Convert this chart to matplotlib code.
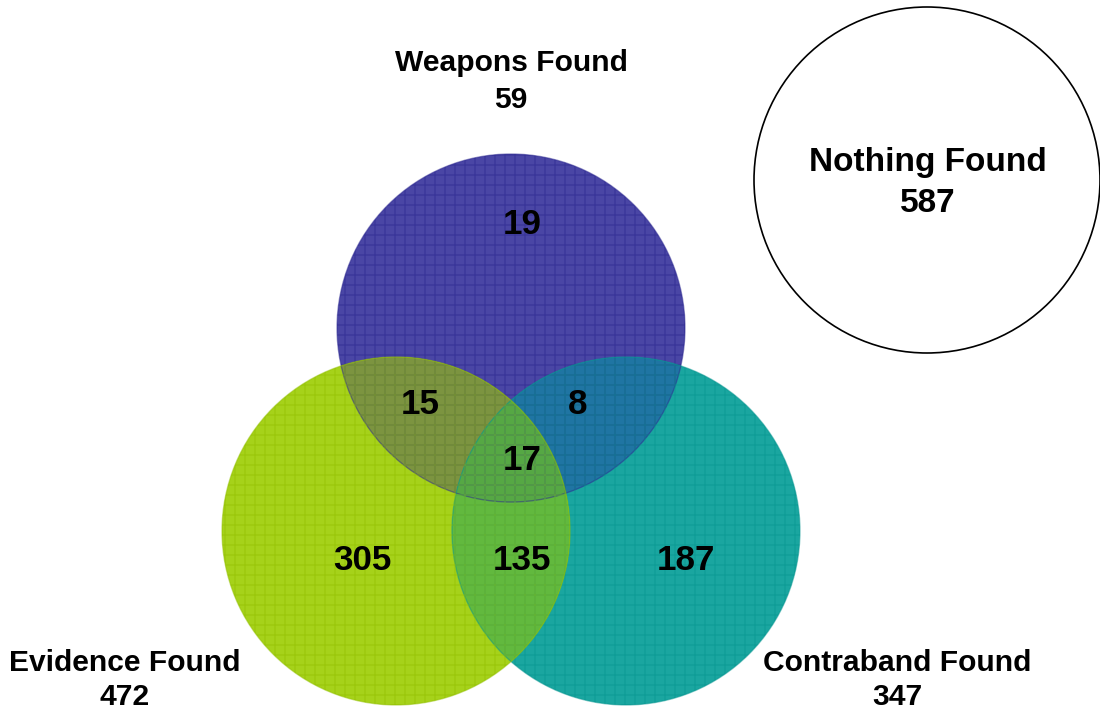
import numpy as np
import matplotlib.pyplot as plt
from matplotlib.patches import Circle, Polygon

plt.rcParams['font.family'] = ['Liberation Sans', 'DejaVu Sans']
plt.rcParams['hatch.linewidth'] = 0.8

# set names and totals
set_keys = ['W', 'E', 'C']
set_names = ['Weapons Found', 'Evidence Found', 'Contraband Found']
set_totals = [59, 472, 347]
nothing_name = 'Nothing Found'
nothing_total = 587

# region counts: only W, W&E, W&C, W&E&C, only E, E&C, only C
region_labels = ['W', 'WE', 'WC', 'WEC', 'E', 'EC', 'C']
region_counts = [19, 15, 8, 17, 305, 135, 187]

# 120 dpi so the '++' hatch gives a ~10 px grid like the reference
DPI = 120
fig = plt.figure(figsize=(1100 / DPI, 715 / DPI), dpi=DPI)
ax = fig.add_axes([0, 0, 1, 1])
ax.set_xlim(0, 1100)
ax.set_ylim(715, 0)
ax.set_aspect('equal')
ax.axis('off')

r = 174
centers = {'W': (511, 328), 'E': (396, 531), 'C': (626, 531)}
region_color = {'W': '#4a46a5', 'E': '#a6d21a', 'C': '#1aa6a0',
                'WE': '#7c9440', 'WC': '#1f75a3', 'EC': '#62b93e', 'WEC': '#56a844'}
hatch_color = {'W': '#2c2890', 'E': '#92c000', 'C': '#069590'}


def circ(key, **kw):
    return Circle(centers[key], r, transform=ax.transData, **kw)


# single sets
for key in ['W', 'C', 'E']:
    ax.add_patch(circ(key, facecolor=region_color[key], edgecolor='none', zorder=2))

# pairwise overlaps
for a, b in [('W', 'E'), ('W', 'C'), ('E', 'C')]:
    p = circ(a, facecolor=region_color[a + b], edgecolor='none', zorder=3)
    ax.add_patch(p)
    p.set_clip_path(circ(b))

# triple overlap (convex, built from circle arcs inside the other two)
pts = []
t = np.linspace(0, 2 * np.pi, 2000)
for key in set_keys:
    cx, cy = centers[key]
    xs, ys = cx + r * np.cos(t), cy + r * np.sin(t)
    inside = np.ones_like(t, dtype=bool)
    for other in set_keys:
        if other != key:
            ox, oy = centers[other]
            inside &= (xs - ox) ** 2 + (ys - oy) ** 2 <= r ** 2 + 1e-6
    pts += list(zip(xs[inside], ys[inside]))
pts = np.array(pts)
mid = pts.mean(axis=0)
order = np.argsort(np.arctan2(pts[:, 1] - mid[1], pts[:, 0] - mid[0]))
ax.add_patch(Polygon(pts[order], closed=True, facecolor=region_color['WEC'],
                     edgecolor='none', zorder=4))

# grid texture and outlines
for key in ['W', 'C', 'E']:
    ax.add_patch(circ(key, facecolor='none', edgecolor=hatch_color[key], hatch='++',
                      lw=0.8, alpha=0.5, zorder=5))

ax.add_patch(Circle((927, 180), 173, facecolor='white', edgecolor='black', lw=1.0, zorder=2))

# region counts
region_pos = {'W': (522, 225), 'WE': (420, 405), 'WC': (578, 405), 'WEC': (522, 460),
              'E': (362, 560), 'EC': (522, 560), 'C': (686, 560)}
for lab, cnt in zip(region_labels, region_counts):
    x, y = region_pos[lab]
    ax.text(x, y, str(cnt), ha='center', va='center', fontsize=21,
            fontweight='bold', color='black', zorder=8)

# set labels
label_pos = [(511, 63, 100), (125, 663, 697), (897, 663, 697)]
for (x, y1, y2), name, tot in zip(label_pos, set_names, set_totals):
    ax.text(x, y1, name, ha='center', va='center', fontsize=18, fontweight='bold', zorder=8)
    ax.text(x, y2, str(tot), ha='center', va='center', fontsize=18, fontweight='bold', zorder=8)

ax.text(928, 163, nothing_name, ha='center', va='center', fontsize=20, fontweight='bold', zorder=8)
ax.text(928, 203, str(nothing_total), ha='center', va='center', fontsize=20, fontweight='bold', zorder=8)

fig.savefig('out.png', dpi=DPI)
